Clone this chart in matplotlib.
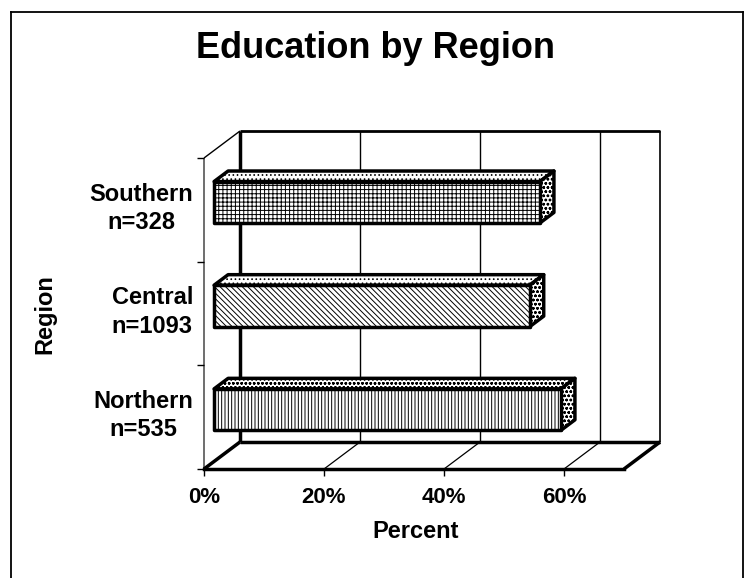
import matplotlib
matplotlib.use("Agg")
import matplotlib.pyplot as plt
from matplotlib.patches import Polygon, Rectangle
from matplotlib.lines import Line2D

plt.rcParams['font.family'] = ['Liberation Sans', 'DejaVu Sans']
plt.rcParams['font.weight'] = 'bold'
plt.rcParams['hatch.linewidth'] = 0.7

# data (bottom to top, as drawn)
regions = ['Northern\nn=535', 'Central\nn=1093', 'Southern\nn=328']
percent = [57.8, 52.6, 54.3]
hatches = ['|||||', r'\\\\\\', '++++']
top_hatches = ['oooo', '....', '....']
xticks = [0, 20, 40, 60]
xticklabels = ['0%', '20%', '40%', '60%']

W, H = 749, 578
fig = plt.figure(figsize=(W / 100, H / 100), dpi=100)
fig.patch.set_facecolor('white')

# front plane of the 3-D box in pixels
left, right, top, bottom = 204, 624, 158, 469
ax = fig.add_axes([left / W, (H - bottom) / H, (right - left) / W, (bottom - top) / H])
ax.set_xlim(0, 70)
ax.set_ylim(0, len(regions))
ax.patch.set_alpha(0)

# depth offset in data units (36 px right, 27 px up)
DX = 36 / (right - left) * 70
DY = 27 / (bottom - top) * len(regions)
n = len(regions)

def line(xs, ys, lw=1.0, color='black', z=1):
    ax.add_line(Line2D(xs, ys, lw=lw, color=color, clip_on=False, zorder=z,
                       solid_capstyle='butt'))

# back wall
line([DX, 70 + DX], [n + DY, n + DY], lw=2)
line([70 + DX, 70 + DX], [DY, n + DY], lw=1.2)
line([DX, DX], [DY, n + DY], lw=2.5)
for xt in xticks[1:]:
    line([xt + DX, xt + DX], [DY, n + DY], lw=1.0)
# left wall
line([0, DX], [n, n + DY], lw=1.0)
line([0, 0], [0, n], lw=1.2, color='#555555')
# floor
line([DX, 70 + DX], [DY, DY], lw=2.5)
line([70, 70 + DX], [0, DY], lw=2.5)
line([0, DX], [0, DY], lw=2.5)
for xt in xticks[1:]:
    line([xt, xt + DX], [0, DY], lw=0.9)

# bars
d0, d1, h = 0.28, 0.67, 0.2
for i, (v, hz, th) in enumerate(zip(percent, hatches, top_hatches)):
    c = i + 0.5
    x0, y0 = d0 * DX, d0 * DY
    x1, y1 = d1 * DX, d1 * DY
    front = Rectangle((x0, c - h + y0), v, 2 * h, facecolor='white', edgecolor='black',
                      hatch=hz, lw=2.5, zorder=5, clip_on=False, joinstyle='round')
    topf = Polygon([(x0, c + h + y0), (v + x0, c + h + y0), (v + x1, c + h + y1), (x1, c + h + y1)],
                   closed=True, facecolor='white', edgecolor='black', hatch=th, lw=2.5,
                   zorder=4, clip_on=False, joinstyle='round')
    side = Polygon([(v + x0, c - h + y0), (v + x1, c - h + y1), (v + x1, c + h + y1), (v + x0, c + h + y0)],
                   closed=True, facecolor='white', edgecolor='black', hatch='oooo', lw=2.5,
                   zorder=4, clip_on=False, joinstyle='round')
    ax.add_patch(topf)
    ax.add_patch(side)
    ax.add_patch(front)

# axes, ticks, labels
for s in ['top', 'right']:
    ax.spines[s].set_visible(False)
ax.spines['left'].set_visible(False)
ax.spines['bottom'].set_linewidth(2.5)
ax.spines['bottom'].set_zorder(3)
ax.set_xticks(xticks, xticklabels, fontsize=16, fontweight='bold')
ax.tick_params(axis='x', direction='out', length=5, width=1, pad=8)
ax.set_yticks(range(n + 1), [''] * (n + 1))
ax.tick_params(axis='y', which='major', direction='out', length=5, width=1)
ax.set_yticks([i + 0.565 for i in range(n)], regions, minor=True)
ax.tick_params(axis='y', which='minor', length=0, pad=8, labelsize=17)
for t in ax.get_yticklabels(minor=True):
    t.set_fontweight('bold')
    t.set_multialignment('center')
    t.set_linespacing(1.3)

fig.text(375 / W, 1 - 48 / H, 'Education by Region', ha='center', va='center',
         fontsize=26, fontweight='bold')
fig.text(416 / W, 1 - 532 / H, 'Percent', ha='center', va='center',
         fontsize=17, fontweight='bold')
fig.text(45 / W, 1 - 314 / H, 'Region', ha='center', va='center', rotation=90,
         fontsize=17, fontweight='bold')

# outer frame
fig.add_artist(Line2D([11 / W, 11 / W], [0, 1 - 12 / H], lw=1.3, color='black'))
fig.add_artist(Line2D([743 / W, 743 / W], [0, 1 - 12 / H], lw=1.3, color='black'))
fig.add_artist(Line2D([11 / W, 743 / W], [1 - 12 / H, 1 - 12 / H], lw=1.3, color='black'))

fig.savefig('out.png', dpi=100, facecolor='white')
